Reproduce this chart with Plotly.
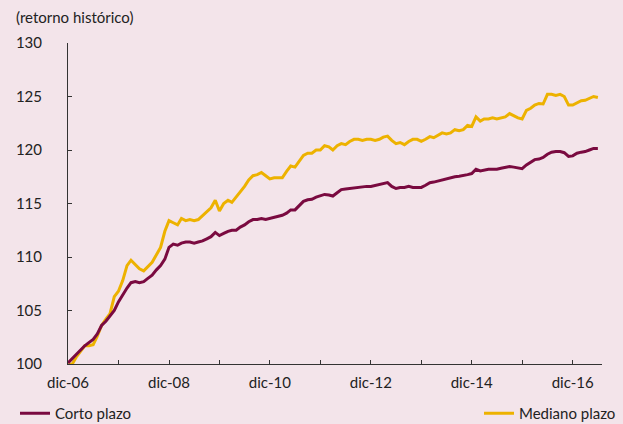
import plotly.graph_objects as go
import pandas as pd

# Monthly dates: Dec 2006 .. Jun 2017
fechas = pd.date_range("2006-12-01", "2017-06-01", freq="MS")

corto_plazo = [
    100.1, 100.5, 101.0, 101.3, 101.7, 102.0, 102.3, 102.8, 103.6, 104.0,
    104.5, 105.0, 105.8, 106.5, 107.1, 107.6, 107.7, 107.6, 107.7, 108.0,
    108.3, 108.8, 109.2, 109.8, 110.9, 111.2, 111.1, 111.3, 111.4, 111.4,
    111.3, 111.4, 111.5, 111.7, 111.9, 112.3, 112.0, 112.2, 112.4, 112.5,
    112.5, 112.8, 113.0, 113.3, 113.5, 113.5, 113.6, 113.5, 113.6, 113.7,
    113.8, 113.9, 114.1, 114.4, 114.4, 114.8, 115.2, 115.35, 115.4, 115.6,
    115.7, 115.85, 115.8, 115.7, 116.0, 116.3, 116.35, 116.4, 116.45, 116.5,
    116.6, 116.6, 116.6, 116.7, 116.8, 116.9, 116.95, 116.6, 116.4, 116.5,
    116.5, 116.6, 116.5, 116.5, 116.5, 116.7, 116.95, 117.0, 117.1, 117.2,
    117.35, 117.4, 117.5, 117.55, 117.6, 117.7, 117.8, 118.2, 118.05, 118.15,
    118.2, 118.2, 118.2, 118.3, 118.35, 118.45, 118.4, 118.35, 118.25, 118.6,
    118.9, 119.1, 119.15, 119.3, 119.6, 119.8, 119.85, 119.85, 119.75, 119.4,
    119.45, 119.7, 119.8, 119.85, 120.0, 120.15, 120.15,
]

mediano_plazo = [
    99.9, 100.0, 100.7, 101.2, 101.7, 101.7, 101.8, 102.6, 103.6, 104.2,
    104.7, 106.3, 106.8, 107.8, 109.2, 109.7, 109.3, 108.9, 108.7, 109.1,
    109.5, 110.2, 110.9, 112.4, 113.4, 113.2, 113.0, 113.6, 113.4, 113.5,
    113.4, 113.5, 113.9, 114.3, 114.6, 115.3, 114.3, 115.0, 115.3, 115.1,
    115.6, 116.1, 116.6, 117.2, 117.6, 117.7, 117.9, 117.6, 117.3, 117.4,
    117.4, 117.4, 118.0, 118.5, 118.4, 118.9, 119.5, 119.7, 119.7, 120.0,
    120.0, 120.4, 120.3, 120.0, 120.4, 120.6, 120.5, 120.8, 121.0, 121.0,
    120.9, 121.0, 121.0, 120.9, 121.0, 121.2, 121.3, 120.9, 120.6, 120.7,
    120.5, 120.8, 121.0, 121.0, 120.8, 121.0, 121.25, 121.15, 121.4, 121.6,
    121.5, 121.6, 121.9, 121.8, 121.9, 122.3, 122.2, 123.1, 122.7, 122.9,
    122.9, 123.0, 122.9, 123.0, 123.1, 123.4, 123.2, 123.0, 122.9, 123.7,
    123.9, 124.2, 124.35, 124.3, 125.2, 125.2, 125.1, 125.2, 125.0, 124.2,
    124.2, 124.4, 124.6, 124.65, 124.8, 125.0, 124.9,
]

tick_fechas = pd.date_range("2006-12-01", "2016-12-01", freq="12MS")
tick_textos = ["dic-06", "", "dic-08", "", "dic-10", "", "dic-12", "", "dic-14", "", "dic-16"]
y_ticks = [100, 105, 110, 115, 120, 125, 130]

BG = "#F3E4EA"
MAROON = "#7A0A40"
YELLOW = "#EDB200"
FONT = "Lato"

fig = go.Figure()
fig.add_trace(go.Scatter(x=fechas, y=mediano_plazo, mode="lines", name="Mediano plazo",
                         line=dict(color=YELLOW, width=3), legend="legend2"))
fig.add_trace(go.Scatter(x=fechas, y=corto_plazo, mode="lines", name="Corto plazo",
                         line=dict(color=MAROON, width=3), legend="legend"))

fig.update_layout(
    width=623, height=424,
    paper_bgcolor=BG, plot_bgcolor=BG,
    margin=dict(l=68, r=21, t=43, b=60, autoexpand=False),
    font=dict(family=FONT, size=15, color="#222222"),
    showlegend=True,
    legend=dict(xref="container", yref="container", x=15 / 623, y=27 / 424,
                xanchor="left", yanchor="top", bgcolor="rgba(0,0,0,0)",
                font=dict(size=15), itemwidth=30),
    legend2=dict(xref="container", yref="container", x=1.0 - 2 / 623, y=27 / 424,
                 xanchor="right", yanchor="top", bgcolor="rgba(0,0,0,0)",
                 font=dict(size=15), itemwidth=30),
    annotations=[dict(text="(retorno histórico)", xref="paper", yref="paper",
                      x=(14 - 68) / 534, y=(364 - 17) / 321, xanchor="left", yanchor="middle",
                      showarrow=False, font=dict(size=15))],
)

fig.update_xaxes(
    type="date", range=["2006-12-01", "2017-07-01"],
    tickvals=tick_fechas, ticktext=tick_textos,
    showline=True, linecolor="#333333", linewidth=1,
    ticks="inside", ticklen=4, tickcolor="#333333",
    showgrid=False, zeroline=False, ticklabelstandoff=5,
)
fig.update_yaxes(
    range=[100, 130], tickvals=y_ticks,
    showline=True, linecolor="#333333", linewidth=1,
    ticks="inside", ticklen=4, tickcolor="#333333",
    showgrid=False, zeroline=False, ticklabelstandoff=22,
)

fig.write_html(
    "out.html",
    config={"displayModeBar": False},
    post_script="document.body.style.margin='0';document.body.style.background='" + BG + "';",
)
